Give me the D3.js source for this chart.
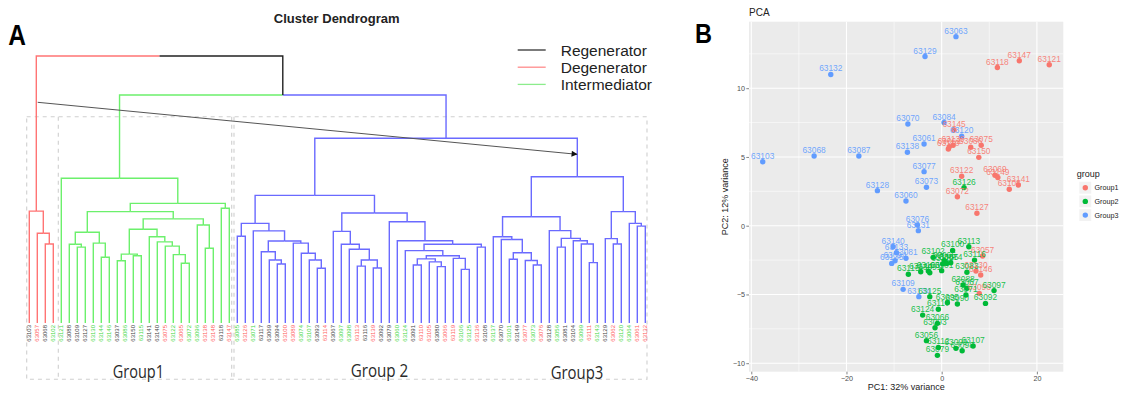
<!DOCTYPE html>
<html><head><meta charset="utf-8">
<script src="https://cdn.jsdelivr.net/npm/d3@7/dist/d3.min.js"></script>
<style>html,body{margin:0;padding:0;background:#fff;} svg{display:block;}</style>
</head><body>
<svg id="chart" width="1121" height="394"></svg>
<script>
// ---------------- DATA: dendrogram ----------------
const leafLabels = [
 "63103","63057","63068","63102",
 "63121","63088","63109","63127","63130","63144","63146","63037","63086","63150","63115","63141","63140","63075","63122","63065","63072","63096","63138","63148","63118","63147",
 "63085","63126","63071","63117","63069","63094","63100","63089","63074","63107","63093","63114","63067","63097","63098","63113","63116","63139","63092","63079","63060","63124","63091","63110","63105","63080","63066",
 "63119","63106","63125","63136","63108","63137","63070","63101","63149","63077","63073","63076","63128","63056","63081","63104","63099","63111","63143","63129","63062","63120","63064","63061","63132"
];
const leafLabelColors = [
 "k","r","k","g",
 "g","k","k","k","g","g","g","k","g","k","g","k","k","r","g","r","g","g","r","r","k","r",
 "g","r","g","k","k","k","r","r","g","g","k","r","k","g","g","r","k","r","k","k","g","g","k","r","r","k","r",
 "r","g","g","r","k","g","k","g","k","r","g","r","k","g","k","k","g","r","g","k","r","g","g","r","r"
];
const clusterSizes = [4, 22, 52];
// R hclust-style merges: negative = leaf (index+1), positive = earlier merge (1-based); third = height
const merges = [
 [-3,-4,29.6],[-2,1,33.6],[-1,2,41.9],
 [-7,-8,28.4],[-6,4,29.5],[-10,-11,24.6],[-9,6,29.9],[5,7,34.0],[-12,-13,23.3],[-14,-15,25.2],[9,10,25.8],
 [-20,-21,22.4],[-19,12,25.6],[-18,13,28.8],[-17,14,30.4],[-16,15,32.3],[11,16,35.1],[-23,-24,28.0],[-22,18,36.7],
 [17,19,39.0],[8,20,41.7],[-25,-26,43.0],[21,22,44.8],[-5,23,54.2],
 [-27,-28,32.5],[-32,-33,22.1],[-31,26,23.6],[-30,27,26.7],[-37,-38,20.5],[-36,29,23.6],[-35,30,26.1],[-34,31,29.9],
 [28,32,30.7],[-29,33,34.5],[25,34,37.3],
 [-42,-43,21.3],[-44,-45,20.6],[36,37,23.6],[-41,38,27.6],[-40,39,29.5],[-39,40,34.3],
 [-49,-50,21.7],[-52,-53,21.1],[-51,43,22.9],[42,44,24.0],[-55,-56,20.1],[-54,46,24.2],[45,47,25.2],[-48,48,27.1],
 [-57,-58,28.4],[49,50,29.5],[-47,51,30.8],[-46,52,37.9],[41,53,41.2],[35,54,47.8],
 [-61,-62,23.9],[-64,-65,21.7],[-63,57,23.4],[56,58,26.3],[-60,59,31.3],[-59,60,32.3],
 [-67,-68,28.4],[-71,-72,22.6],[-70,63,29.6],[-69,64,30.8],[62,65,31.7],[-66,66,34.6],[61,67,39.8],
 [-74,-75,29.6],[-73,69,31.6],[-77,-78,36.3],[-76,71,37.3],[70,72,41.7],[68,73,54.8],
 [55,74,69.2],[24,75,85.4],[3,76,100]
];
const legendLabels = ["Regenerator","Degenerator","Intermediator"];
const groupBoxLabels = ["Group1","Group 2","Group3"];

// ---------------- DATA: PCA ----------------
const pcaLabels = [
 "63063","63129","63132","63070","63084","63120","63061","63138","63103","63068","63087","63077","63073","63128","63060","63076","63131","63140","63133","63081","63135","63094","63109","63134",
 "63118","63147","63121","63145","63110","63139","63062","63086","63075","63150","63122","63069","63149","63141","63105","63072","63127","63057","63130","63146","63096",
 "63126","63100","63113","63116","63102","63065","63085","63119","63074","63101","63088","63091","63144","63115","63106","63083","63067","63097","63071","63092","63125","63095","63090","63117","63124","63066","63093","63056","63112","63079","63099","63098","63107"
];
const pcaPC1 = [
 3.0,-3.5,-23.3,-7.1,0.5,4.2,-3.7,-7.2,-37.6,-26.8,-17.4,-3.7,-3.2,-13.5,-7.5,-5.1,-4.9,-10.2,-9.5,-7.5,-10.5,-9.8,-8.1,-4.8,
 11.7,16.3,22.6,2.6,1.4,2.4,1.6,6.1,8.3,7.8,4.2,11.2,11.8,16.1,14.2,3.3,7.4,8.6,7.2,8.2,7.9,
 4.7,2.3,5.7,6.9,-1.8,0.55,1.05,0.2,1.9,0.0,4.5,-2.5,-4.4,-7.0,-2.8,5.3,5.3,11.0,5.1,9.2,-2.5,1.2,3.3,-0.7,-4.0,-0.9,-1.4,-3.2,-0.7,-0.9,3.0,4.3,6.6
];
const pcaPC2 = [
 13.75,12.3,11.0,7.4,7.5,6.5,5.94,5.34,4.65,5.07,5.07,3.93,2.8,2.55,1.8,0.05,-0.36,-1.53,-1.96,-2.37,-2.74,-2.55,-4.63,-5.16,
 11.5,12.0,11.7,6.96,5.58,5.85,5.75,5.7,5.85,4.97,3.6,3.67,3.5,2.96,2.65,2.1,0.9,-2.2,-3.3,-3.59,-4.92,
 2.77,-1.8,-1.53,-2.5,-2.3,-2.55,-2.74,-2.79,-2.69,-3.27,-4.31,-3.42,-3.35,-3.53,-3.3,-3.39,-4.55,-4.72,-5.04,-5.65,-5.16,-5.6,-5.69,-6.08,-6.5,-7.1,-7.42,-8.36,-8.85,-9.43,-8.92,-9.09,-8.75
];
const pcaGroup = [
 3,3,3,3,3,3,3,3,3,3,3,3,3,3,3,3,3,3,3,3,3,3,3,3,
 1,1,1,1,1,1,1,1,1,1,1,1,1,1,1,1,1,1,1,1,1,
 2,2,2,2,2,2,2,2,2,2,2,2,2,2,2,2,2,2,2,2,2,2,2,2,2,2,2,2,2,2,2,2,2
];
const pcaGroupNames = ["Group1","Group2","Group3"];
const pcaXTicks = [-40,-20,0,20];
const pcaYTicks = [-10,-5,0,5,10];
const pcaXMinor = [-30,-10,10];
const pcaYMinor = [-7.5,-2.5,2.5,7.5,12.5];

// ---------------- DRAW ----------------
const svg = d3.select("#chart");
const SANS = "'Liberation Sans', Arial, Helvetica, sans-serif";
const labelCol = {k:"#444", r:"#ff5c5c", g:"#45d845"};
const clusterCol = ["#ff7474","#6cf06c","#6a6aff"];
const blackCol = "#222";

// Panel letter A
svg.append("text").attr("x",8.3).attr("y",45).attr("font-family",SANS).attr("font-weight","bold")
  .attr("font-size",30).attr("textLength",17.7).attr("lengthAdjust","spacingAndGlyphs").text("A");
svg.append("text").attr("x",336.7).attr("y",23).attr("text-anchor","middle").attr("font-family",SANS)
  .attr("font-weight","bold").attr("font-size",13).attr("fill","#222").text("Cluster Dendrogram");

// dashed boxes
const dash = svg.append("g").attr("fill","none").attr("stroke","#cfcfcf").attr("stroke-width",1.1).attr("stroke-dasharray","4,4");
dash.append("rect").attr("x",26.7).attr("y",116.7).attr("width",620.3).attr("height",262.6);
[58.3,231.7,234].forEach(x=>dash.append("line").attr("x1",x).attr("x2",x).attr("y1",116.7).attr("y2",379.3));

// tree
const nLeaves = leafLabels.length;
const xLeaf = d3.scalePoint().domain(d3.range(nLeaves)).range([29.3,645.3]);
const yH = d3.scaleLinear().domain([0,100]).range([323,56]);
const leafCluster = [];
clusterSizes.forEach((s,ci)=>{for(let k=0;k<s;k++) leafCluster.push(ci);});
const leafNodes = d3.range(nLeaves).map(i=>({x:xLeaf(i), h:0, cluster:leafCluster[i]}));
const inner = [];
const getNode = id => id<0 ? leafNodes[-id-1] : inner[id-1];
merges.forEach(([a,b,h])=>{
  const l=getNode(a), r=getNode(b);
  inner.push({x:(l.x+r.x)/2, h:h, children:[l,r], cluster:(l.cluster===r.cluster?l.cluster:null)});
});
const tree = svg.append("g").attr("fill","none").attr("stroke-width",1.4);
inner.forEach(nd=>{
  nd.children.forEach(ch=>{
    tree.append("path")
      .attr("d",`M${ch.x},${yH(ch.h)}V${yH(nd.h)}H${nd.x}`)
      .attr("stroke", ch.cluster===null ? blackCol : clusterCol[ch.cluster]);
  });
});
// leaf labels
svg.append("g").selectAll("text").data(leafLabels).join("text")
  .attr("transform",(d,i)=>`translate(${xLeaf(i)+2.1},325) rotate(-90)`)
  .attr("text-anchor","end").attr("font-family",SANS).attr("font-size",6)
  .attr("fill",(d,i)=>labelCol[leafLabelColors[i]]).text(d=>d);

// arrow
const defs = svg.append("defs");
defs.append("marker").attr("id","ah").attr("viewBox","0 0 10 10").attr("refX",9).attr("refY",5)
  .attr("markerWidth",7).attr("markerHeight",6).attr("orient","auto").attr("markerUnits","userSpaceOnUse")
  .append("path").attr("d","M0,0L10,5L0,10z").attr("fill","#111");
svg.append("line").attr("x1",37.7).attr("y1",102.3).attr("x2",577).attr("y2",154.3)
  .attr("stroke","#555").attr("stroke-width",1).attr("marker-end","url(#ah)");

// legend
const legCols = ["#333", "#ff8c8c", "#8cec8c"];
legendLabels.forEach((t,i)=>{
  const y = 50 + i*17.2;
  svg.append("line").attr("x1",517.7).attr("x2",545.7).attr("y1",y).attr("y2",y).attr("stroke",legCols[i]).attr("stroke-width",1.3);
  svg.append("text").attr("x",560.7).attr("y",y+5.5).attr("font-family",SANS).attr("font-size",15.5).attr("fill","#222").text(t);
});

// group labels
const gPos = [[112.7,378.3,51.3],[350.7,377.3,57.6],[550.7,379.3,52.6]];
groupBoxLabels.forEach((t,i)=>{
  svg.append("text").attr("x",gPos[i][0]).attr("y",gPos[i][1]).attr("font-family","'Open Sans','Noto Sans',sans-serif")
    .attr("font-size",17.5).attr("fill","#2a2a2a").attr("textLength",gPos[i][2]).attr("lengthAdjust","spacingAndGlyphs").text(t);
});

// ---------------- PCA panel ----------------
svg.append("text").attr("x",695).attr("y",43.3).attr("font-family",SANS).attr("font-weight","bold")
  .attr("font-size",28).attr("textLength",17).attr("lengthAdjust","spacingAndGlyphs").text("B");
const px0=749, px1=1063.3, py0=21.7, py1=371.7;
const xP = d3.scaleLinear().domain([-40.48,25.55]).range([px0,px1]);
const yP = d3.scaleLinear().domain([-10.618,14.836]).range([py1,py0]);
svg.append("text").attr("x",749).attr("y",16).attr("font-family",SANS).attr("font-size",10).attr("fill","#222").text("PCA");
svg.append("rect").attr("x",px0).attr("y",py0).attr("width",px1-px0).attr("height",py1-py0).attr("fill","#EBEBEB");
const grid = svg.append("g").attr("stroke","#fff");
pcaXMinor.forEach(v=>grid.append("line").attr("x1",xP(v)).attr("x2",xP(v)).attr("y1",py0).attr("y2",py1).attr("stroke-width",0.55));
pcaYMinor.forEach(v=>grid.append("line").attr("y1",yP(v)).attr("y2",yP(v)).attr("x1",px0).attr("x2",px1).attr("stroke-width",0.55));
pcaXTicks.forEach(v=>grid.append("line").attr("x1",xP(v)).attr("x2",xP(v)).attr("y1",py0).attr("y2",py1).attr("stroke-width",1.1));
pcaYTicks.forEach(v=>grid.append("line").attr("y1",yP(v)).attr("y2",yP(v)).attr("x1",px0).attr("x2",px1).attr("stroke-width",1.1));

const xAx = svg.append("g").attr("transform",`translate(0,${py1})`)
  .call(d3.axisBottom(xP).tickValues(pcaXTicks).tickSize(2.7).tickPadding(1.2).tickFormat(d3.format("d")));
const yAx = svg.append("g").attr("transform",`translate(${px0},0)`)
  .call(d3.axisLeft(yP).tickValues(pcaYTicks).tickSize(2.7).tickPadding(1.2).tickFormat(d3.format("d")));
[xAx,yAx].forEach(a=>{
  a.select(".domain").remove();
  a.selectAll(".tick line").attr("stroke","#333").attr("stroke-width",0.6);
  a.selectAll(".tick text").attr("fill","#4D4D4D").attr("font-size",7.2).attr("font-family",SANS);
});
svg.append("text").attr("x",(px0+px1)/2).attr("y",389.8).attr("text-anchor","middle").attr("font-family",SANS)
  .attr("font-size",9).attr("fill","#222").text("PC1: 32% variance");
svg.append("text").attr("transform",`translate(727.8,${(py0+py1)/2}) rotate(-90)`).attr("text-anchor","middle")
  .attr("font-family",SANS).attr("font-size",9).attr("fill","#222").text("PC2: 12% variance");

const gCol = ["#F8766D","#00BA38","#619CFF"];
const idx = d3.range(pcaLabels.length);
svg.append("g").selectAll("circle").data(idx).join("circle")
  .attr("cx",i=>xP(pcaPC1[i])).attr("cy",i=>yP(pcaPC2[i])).attr("r",2.7).attr("fill",i=>gCol[pcaGroup[i]-1]);
svg.append("g").selectAll("text").data(idx).join("text")
  .attr("x",i=>xP(pcaPC1[i])).attr("y",i=>yP(pcaPC2[i])-3).attr("text-anchor","middle")
  .attr("font-family",SANS).attr("font-size",8.4).attr("fill",i=>gCol[pcaGroup[i]-1]).attr("fill-opacity",0.9).text(i=>pcaLabels[i]);

// PCA legend
svg.append("text").attr("x",1076.7).attr("y",177).attr("font-family",SANS).attr("font-size",9).attr("fill","#222").text("group");
pcaGroupNames.forEach((t,i)=>{
  const cy = 187.7 + i*13.7;
  svg.append("rect").attr("x",1078.6).attr("y",cy-6.7).attr("width",13.4).attr("height",13.4).attr("fill","#F2F2F2").attr("stroke","#fff").attr("stroke-width",1.5);
  svg.append("circle").attr("cx",1085.3).attr("cy",cy).attr("r",2.7).attr("fill",gCol[i]);
  svg.append("text").attr("x",1094.5).attr("y",cy+2.6).attr("font-family",SANS).attr("font-size",7.2).attr("fill","#222").text(t);
});
</script>
</body></html>
